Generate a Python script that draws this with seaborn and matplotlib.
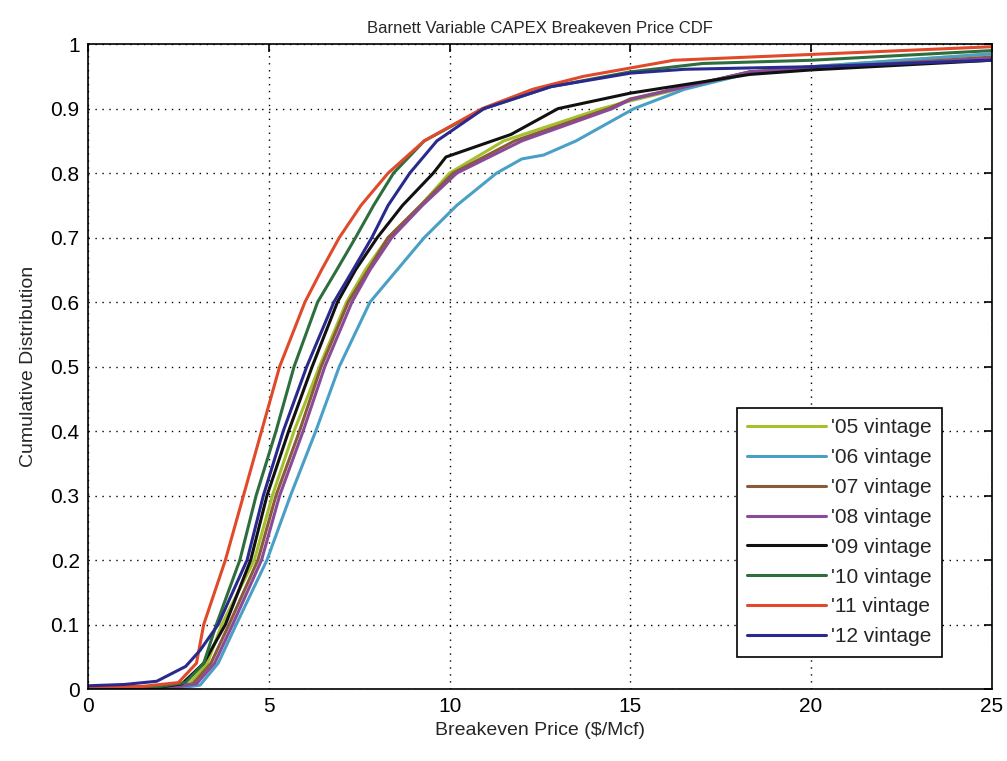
import numpy as np
import pandas as pd
import seaborn as sns
import matplotlib.pyplot as plt

# breakeven price ($/Mcf) vs cumulative share per vintage
vintages = ["'05 vintage", "'06 vintage", "'07 vintage", "'08 vintage",
            "'09 vintage", "'10 vintage", "'11 vintage", "'12 vintage"]

price_05 = [0, 2.3, 2.8, 3.3, 3.7, 4.6, 5.1, 5.7, 6.4, 7.15, 7.67, 8.3, 9.2, 10.0, 11.5, 14.2, 15.0, 18.3, 20.0, 25.0]
cdf_05 = [0.002, 0.003, 0.008, 0.04, 0.1, 0.2, 0.3, 0.4, 0.5, 0.6, 0.65, 0.7, 0.75, 0.8, 0.85, 0.9, 0.912, 0.957, 0.965, 0.985]

price_06 = [0, 2.6, 3.1, 3.6, 4.1, 4.95, 5.6, 6.3, 6.95, 7.8, 8.55, 9.3, 10.2, 11.3, 12.0, 12.6, 13.5, 15.1, 16.5, 18.3, 20.0, 25.0]
cdf_06 = [0.001, 0.002, 0.006, 0.04, 0.1, 0.2, 0.3, 0.4, 0.5, 0.6, 0.65, 0.7, 0.75, 0.8, 0.822, 0.828, 0.85, 0.9, 0.93, 0.955, 0.965, 0.985]

price_07 = [0, 2.4, 2.9, 3.4, 3.9, 4.7, 5.2, 5.85, 6.45, 7.2, 7.75, 8.3, 9.2, 10.1, 11.8, 14.4, 15.0, 18.3, 20.0, 25.0]
cdf_07 = [0.002, 0.003, 0.008, 0.04, 0.1, 0.2, 0.3, 0.4, 0.5, 0.6, 0.65, 0.7, 0.75, 0.8, 0.85, 0.9, 0.915, 0.957, 0.962, 0.98]

price_08 = [0, 2.4, 3.0, 3.5, 4.0, 4.8, 5.3, 5.95, 6.55, 7.3, 7.8, 8.4, 9.25, 10.2, 12.0, 14.5, 15.0, 18.3, 20.0, 25.0]
cdf_08 = [0.002, 0.003, 0.008, 0.04, 0.1, 0.2, 0.3, 0.4, 0.5, 0.6, 0.65, 0.7, 0.75, 0.8, 0.85, 0.9, 0.914, 0.957, 0.962, 0.978]

price_09 = [0, 2.0, 2.6, 3.2, 3.8, 4.5, 4.95, 5.55, 6.2, 6.9, 7.4, 8.0, 8.7, 9.55, 9.9, 11.7, 13.0, 15.0, 18.3, 20.0, 25.0]
cdf_09 = [0.002, 0.003, 0.008, 0.04, 0.1, 0.2, 0.3, 0.4, 0.5, 0.6, 0.65, 0.7, 0.75, 0.8, 0.825, 0.86, 0.9, 0.924, 0.953, 0.96, 0.975]

price_10 = [0, 2.0, 2.7, 3.2, 3.55, 4.2, 4.65, 5.2, 5.7, 6.35, 6.88, 7.4, 7.9, 8.45, 9.3, 10.95, 12.8, 15.0, 17.0, 20.0, 25.0]
cdf_10 = [0.003, 0.004, 0.01, 0.04, 0.1, 0.2, 0.3, 0.4, 0.5, 0.6, 0.65, 0.7, 0.75, 0.8, 0.85, 0.9, 0.934, 0.957, 0.97, 0.975, 0.99]

price_11 = [0, 1.5, 2.5, 3.0, 3.2, 3.8, 4.3, 4.8, 5.3, 6.0, 6.46, 6.95, 7.55, 8.3, 9.3, 10.9, 12.3, 13.7, 16.2, 20.0, 25.0]
cdf_11 = [0.003, 0.004, 0.01, 0.04, 0.1, 0.2, 0.3, 0.4, 0.5, 0.6, 0.65, 0.7, 0.75, 0.8, 0.85, 0.9, 0.93, 0.95, 0.975, 0.984, 0.996]

price_12 = [0, 1.0, 1.9, 2.7, 3.1, 3.6, 4.4, 4.85, 5.4, 6.05, 6.8, 7.33, 7.85, 8.3, 8.9, 9.65, 10.95, 12.8, 15.0, 16.5, 20.0, 25.0]
cdf_12 = [0.005, 0.007, 0.012, 0.035, 0.06, 0.1, 0.2, 0.3, 0.4, 0.5, 0.6, 0.65, 0.7, 0.75, 0.8, 0.85, 0.9, 0.934, 0.955, 0.961, 0.965, 0.975]

prices = [price_05, price_06, price_07, price_08, price_09, price_10, price_11, price_12]
cdfs = [cdf_05, cdf_06, cdf_07, cdf_08, cdf_09, cdf_10, cdf_11, cdf_12]

colors = ['#a3c12a', '#4a9fc6', '#8a5a3a', '#8a4a9a', '#111111', '#2e6e3e', '#e04a2a', '#2a2a8e']

frames = []
for name, p, c in zip(vintages, prices, cdfs):
    frames.append(pd.DataFrame({'price': p, 'cdf': c, 'vintage': name}))
df = pd.concat(frames, ignore_index=True)

sns.set_style('white')
plt.rcParams['font.family'] = ['Liberation Sans Narrow', 'Liberation Sans', 'DejaVu Sans']

fig = plt.figure(figsize=(10.07, 7.61), dpi=100)
ax = fig.add_axes([0.0874, 0.0946, 0.8976, 0.8474])

sns.lineplot(data=df, x='price', y='cdf', hue='vintage', hue_order=vintages,
             palette=dict(zip(vintages, colors)), estimator=None, sort=False,
             linewidth=2.2, ax=ax)

ax.set_xlim(0, 25)
ax.set_ylim(0, 1)
ax.set_xticks(np.arange(0, 26, 5))
ax.set_yticks(np.round(np.arange(0, 1.01, 0.1), 1))
ax.set_yticklabels(['0', '0.1', '0.2', '0.3', '0.4', '0.5', '0.6', '0.7', '0.8', '0.9', '1'])
ax.tick_params(direction='in', length=6, width=1.2, top=True, right=True,
               labelsize=15, colors='black', pad=6)
ax.grid(True, linestyle=(0, (1, 4)), color='black', linewidth=1)
for s in ax.spines.values():
    s.set_color('black')
    s.set_linewidth(1.2)

ax.set_title('Barnett Variable CAPEX Breakeven Price CDF', fontsize=12, pad=8)
ax.set_xlabel('Breakeven Price ($/Mcf)', fontsize=14)
ax.set_ylabel('Cumulative Distribution', fontsize=14, labelpad=10)

leg = ax.legend(loc='lower right', bbox_to_anchor=(0.956, 0.034), fontsize=15,
                frameon=True, fancybox=False, edgecolor='black', framealpha=1,
                handlelength=3.8, labelspacing=0.52, borderpad=0.5, handletextpad=0.2)
leg.get_frame().set_linewidth(1.2)

plt.savefig('out.png', dpi=100)
